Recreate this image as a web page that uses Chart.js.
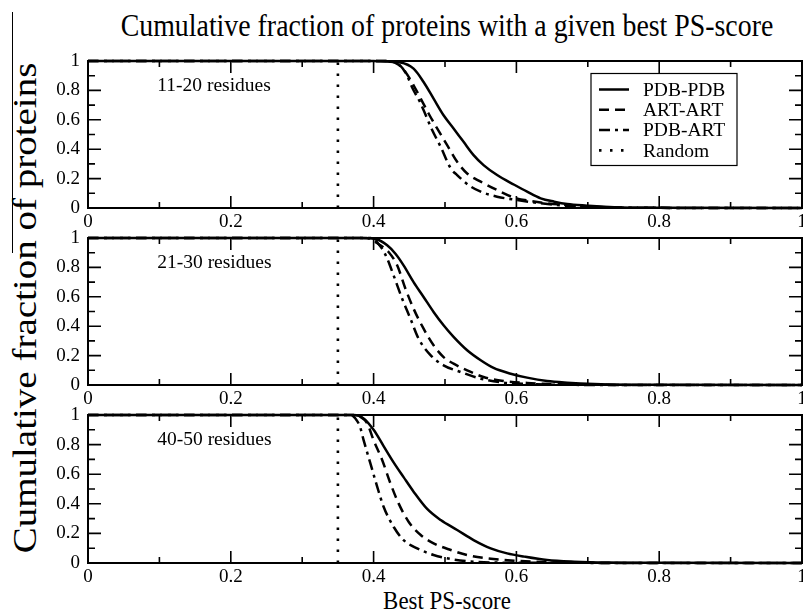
<!DOCTYPE html>
<html>
<head>
<meta charset="utf-8">
<script src="https://cdn.jsdelivr.net/npm/chart.js@4/dist/chart.umd.min.js"></script>
<style>
html,body{margin:0;padding:0;background:#fff;}
#wrap{position:relative;width:803px;height:613px;overflow:hidden;background:#fff;font-family:"Liberation Serif","Times New Roman",serif;color:#000;}
canvas{position:absolute;left:0;}
.t{position:absolute;white-space:nowrap;color:#000;}
#title{left:47px;width:800px;text-align:center;top:9px;font-size:32px;line-height:32px;transform:scaleX(0.87);}
#xlab{left:247px;width:400px;text-align:center;top:588px;font-size:26px;line-height:26px;transform:scaleX(0.88);}
#ylab{left:-275px;width:600px;text-align:center;top:288px;font-size:39px;line-height:40px;transform:rotate(-90deg) scaleY(0.85);}
#artline{position:absolute;left:12px;top:12px;width:1px;height:241px;background:#000;}
</style>
</head>
<body>
<div id="wrap">
  <div class="t" id="title">Cumulative fraction of proteins with a given best PS-score</div>
  <div class="t" id="ylab">Cumulative fraction of proteins</div>
  <div class="t" id="xlab">Best PS-score</div>
  <div id="artline"></div>
  <canvas id="c1" width="803" height="191" style="top:47px;width:803px;height:191px"></canvas>
  <canvas id="c2" width="803" height="191" style="top:224px;width:803px;height:191px"></canvas>
  <canvas id="c3" width="803" height="192" style="top:401px;width:803px;height:192px"></canvas>
</div>
<script>
// ---------------- data ----------------
const xTickLabels = ["0", "0.2", "0.4", "0.6", "0.8", "1"];
const yTickLabels = ["0", "0.2", "0.4", "0.6", "0.8", "1"];
const seriesNames = ["PDB-PDB", "ART-ART", "PDB-ART", "Random"];
const panelLabels = ["11-20 residues", "21-30 residues", "40-50 residues"];
const randomScore = 0.35;

// Panel 1: 11-20 residues
const p1PdbPdbX = [0, 0.40, 0.41, 0.4375, 0.456, 0.470, 0.484, 0.498, 0.512, 0.526, 0.540, 0.554, 0.573, 0.597, 0.615, 0.634, 0.653, 0.671, 0.699, 0.737, 0.80, 1.0];
const p1PdbPdbY = [1, 1, 0.998, 0.99, 0.948, 0.857, 0.744, 0.631, 0.541, 0.45, 0.36, 0.292, 0.224, 0.158, 0.111, 0.066, 0.043, 0.027, 0.016, 0.005, 0.001, 0];
const p1ArtArtX = [0, 0.42, 0.435, 0.4446, 0.456, 0.466, 0.477, 0.489, 0.503, 0.517, 0.531, 0.550, 0.573, 0.597, 0.620, 0.643, 0.671, 0.72, 0.80, 1.0];
const p1ArtArtY = [1, 1, 0.975, 0.925, 0.835, 0.744, 0.643, 0.541, 0.428, 0.314, 0.235, 0.179, 0.122, 0.07, 0.048, 0.032, 0.02, 0.006, 0.001, 0];
const p1PdbArtX = [0, 0.42, 0.437, 0.447, 0.454, 0.466, 0.482, 0.494, 0.508, 0.517, 0.533, 0.550, 0.573, 0.601, 0.634, 0.666, 0.72, 0.80, 1.0];
const p1PdbArtY = [1, 1, 0.97, 0.9, 0.82, 0.71, 0.53, 0.416, 0.27, 0.224, 0.156, 0.111, 0.077, 0.054, 0.032, 0.016, 0.005, 0.001, 0];

// Panel 2: 21-30 residues
const p2PdbPdbX = [0, 0.381, 0.405, 0.419, 0.4306, 0.442, 0.456, 0.470, 0.484, 0.498, 0.512, 0.531, 0.550, 0.568, 0.592, 0.615, 0.643, 0.671, 0.709, 0.76, 0.80, 1.0];
const p2PdbPdbY = [1, 1, 0.99, 0.95, 0.893, 0.814, 0.70, 0.599, 0.497, 0.406, 0.327, 0.236, 0.168, 0.116, 0.077, 0.05, 0.027, 0.016, 0.007, 0.002, 0.001, 0];
const p2ArtArtX = [0, 0.39, 0.4095, 0.421, 0.433, 0.4446, 0.456, 0.470, 0.484, 0.498, 0.512, 0.531, 0.554, 0.582, 0.615, 0.662, 0.72, 1.0];
const p2ArtArtY = [1, 1, 0.95, 0.905, 0.814, 0.655, 0.519, 0.383, 0.27, 0.19, 0.145, 0.10, 0.054, 0.027, 0.014, 0.005, 0.001, 0];
const p2PdbArtX = [0, 0.395, 0.412, 0.419, 0.428, 0.44, 0.4516, 0.463, 0.48, 0.498, 0.522, 0.55, 0.582, 0.615, 0.67, 1.0];
const p2PdbArtY = [1, 1, 0.927, 0.86, 0.746, 0.587, 0.451, 0.315, 0.202, 0.134, 0.088, 0.043, 0.016, 0.007, 0.001, 0];

// Panel 3: 40-50 residues
const p3PdbPdbX = [0, 0.372, 0.386, 0.40, 0.414, 0.428, 0.442, 0.456, 0.475, 0.494, 0.517, 0.540, 0.564, 0.587, 0.611, 0.643, 0.681, 0.73, 0.80, 1.0];
const p3PdbPdbY = [1, 1, 0.977, 0.9, 0.79, 0.68, 0.58, 0.482, 0.365, 0.29, 0.223, 0.155, 0.099, 0.065, 0.043, 0.02, 0.009, 0.003, 0.001, 0];
const p3ArtArtX = [0, 0.372, 0.381, 0.391, 0.40, 0.412, 0.4236, 0.435, 0.449, 0.466, 0.484, 0.508, 0.531, 0.559, 0.597, 0.643, 0.70, 1.0];
const p3ArtArtY = [1, 1, 0.99, 0.944, 0.83, 0.696, 0.538, 0.403, 0.279, 0.189, 0.133, 0.088, 0.054, 0.032, 0.016, 0.005, 0.001, 0];
const p3PdbArtX = [0, 0.368, 0.3745, 0.381, 0.386, 0.3955, 0.405, 0.414, 0.428, 0.442, 0.461, 0.484, 0.508, 0.540, 0.60, 1.0];
const p3PdbArtY = [1, 1, 0.977, 0.92, 0.83, 0.673, 0.516, 0.38, 0.245, 0.155, 0.099, 0.054, 0.027, 0.009, 0.002, 0];

// ---------------- styling / build ----------------
const FONT = '"Liberation Serif", "Times New Roman", serif';
const styles = [
  {borderDash: []},
  {borderDash: [10, 6]},
  {borderDash: [11, 5, 3, 5]},
  {borderDash: [2.5, 8.5]}
];
function pts(xs, ys) { return xs.map((x, i) => ({x: x, y: ys[i]})); }
function makeDatasets(a, b, c) {
  const sets = [a, b, c].map((d, k) => ({
    label: seriesNames[k],
    data: d,
    borderColor: '#000',
    borderWidth: 2.5,
    borderDash: styles[k].borderDash,
    pointRadius: 0,
    fill: false,
    cubicInterpolationMode: 'monotone',
    clip: 3
  }));
  sets.push({
    label: seriesNames[3],
    data: [{x: randomScore, y: 0}, {x: randomScore, y: 1}],
    borderColor: '#000',
    borderWidth: 2.6,
    borderDash: styles[3].borderDash,
    pointRadius: 0,
    fill: false,
    tension: 0,
    clip: 3
  });
  return sets;
}

const framePlugin = {
  id: 'frame',
  afterDatasetsDraw(chart) {
    const ctx = chart.ctx, a = chart.chartArea;
    const xs = chart.scales.x, ys = chart.scales.y;
    ctx.save();
    ctx.strokeStyle = '#000';
    ctx.lineWidth = 1.6;
    ctx.beginPath();
    for (let i = 1; i < 10; i++) {
      const v = i / 10;
      const major = i % 2 === 0;
      const px = xs.getPixelForValue(v);
      const lx = major ? 12 : 6;
      ctx.moveTo(px, a.bottom); ctx.lineTo(px, a.bottom - lx);
      ctx.moveTo(px, a.top); ctx.lineTo(px, a.top + lx);
      const py = ys.getPixelForValue(v);
      const ly = major ? 13 : 7;
      ctx.moveTo(a.left, py); ctx.lineTo(a.left + ly, py);
      ctx.moveTo(a.right, py); ctx.lineTo(a.right - ly, py);
    }
    ctx.stroke();
    ctx.lineWidth = 2;
    ctx.strokeRect(a.left, a.top, a.right - a.left, a.bottom - a.top);
    ctx.restore();
  }
};

function panelTextPlugin(text) {
  return {
    id: 'ptext',
    afterDatasetsDraw(chart) {
      const ctx = chart.ctx;
      ctx.save();
      ctx.fillStyle = '#000';
      ctx.font = '19.5px ' + FONT;
      ctx.textAlign = 'left';
      ctx.textBaseline = 'middle';
      ctx.fillText(text, chart.scales.x.getPixelForValue(0.097), chart.scales.y.getPixelForValue(0.83));
      ctx.restore();
    }
  };
}

const legendPlugin = {
  id: 'boxlegend',
  afterDatasetsDraw(chart) {
    const ctx = chart.ctx, a = chart.chartArea;
    const bx = a.left + 503, by = a.top + 12.5, bw = 146, bh = 92;
    ctx.save();
    ctx.fillStyle = '#fff';
    ctx.fillRect(bx, by, bw, bh);
    ctx.strokeStyle = '#000';
    ctx.lineWidth = 1.2;
    ctx.strokeRect(bx, by, bw, bh);
    chart.data.datasets.forEach((ds, i) => {
      const y = by + 16 + i * 20.3;
      ctx.beginPath();
      ctx.setLineDash(ds.borderDash || []);
      ctx.lineWidth = ds.borderWidth;
      ctx.moveTo(bx + 8, y);
      ctx.lineTo(bx + 38, y);
      ctx.stroke();
      ctx.setLineDash([]);
      ctx.fillStyle = '#000';
      ctx.font = '19.5px ' + FONT;
      ctx.textAlign = 'left';
      ctx.textBaseline = 'middle';
      ctx.fillText(ds.label, bx + 52, y + 1);
    });
    ctx.restore();
  }
};

function makeChart(id, datasets, label, withLegend) {
  const plugins = [framePlugin, panelTextPlugin(label)];
  if (withLegend) plugins.push(legendPlugin);
  return new Chart(document.getElementById(id), {
    type: 'line',
    data: {datasets: datasets},
    options: {
      responsive: false,
      animation: false,
      events: [],
      layout: {padding: {top: 14, right: 1, left: 0, bottom: 0}},
      plugins: {legend: {display: false}, tooltip: {enabled: false}},
      scales: {
        x: {
          type: 'linear', min: 0, max: 1,
          grid: {display: false, drawTicks: false},
          border: {display: false},
          ticks: {
            stepSize: 0.2, autoSkip: false, maxRotation: 0, padding: 3,
            color: '#000', font: {family: FONT, size: 19},
            callback: (v, i) => xTickLabels[i]
          },
          afterFit(s) { s.height = 30; s.paddingLeft = 0; s.paddingRight = 0; }
        },
        y: {
          type: 'linear', min: 0, max: 1,
          grid: {display: false, drawTicks: false},
          border: {display: false},
          ticks: {
            stepSize: 0.2, autoSkip: false, padding: 8,
            color: '#000', font: {family: FONT, size: 19},
            callback: (v, i) => yTickLabels[i]
          },
          afterFit(s) { s.width = 88; s.paddingTop = 0; s.paddingBottom = 0; }
        }
      }
    },
    plugins: plugins
  });
}

makeChart('c1', makeDatasets(pts(p1PdbPdbX, p1PdbPdbY), pts(p1ArtArtX, p1ArtArtY), pts(p1PdbArtX, p1PdbArtY)), panelLabels[0], true);
makeChart('c2', makeDatasets(pts(p2PdbPdbX, p2PdbPdbY), pts(p2ArtArtX, p2ArtArtY), pts(p2PdbArtX, p2PdbArtY)), panelLabels[1], false);
makeChart('c3', makeDatasets(pts(p3PdbPdbX, p3PdbPdbY), pts(p3ArtArtX, p3ArtArtY), pts(p3PdbArtX, p3PdbArtY)), panelLabels[2], false);
</script>
</body>
</html>
